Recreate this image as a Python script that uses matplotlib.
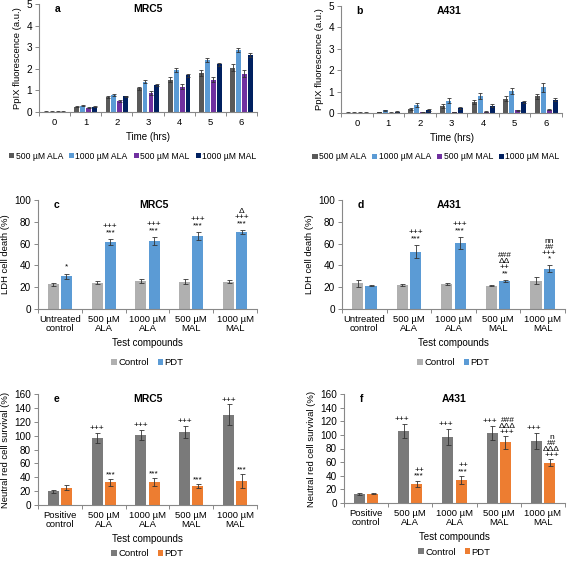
import numpy as np
import matplotlib.pyplot as plt

plt.rcParams['font.family'] = ['Liberation Sans', 'DejaVu Sans']

# panel a/b: PpIX fluorescence over time
hours = ['0', '1', '2', '3', '4', '5', '6']
ppix_series = ['500 µM ALA', '1000 µM ALA', '500 µM MAL', '1000 µM MAL']
ppix_colors = ['#595959', '#5b9bd5', '#7030a0', '#002060']

mrc5_ppix = [
    [0.02, 0.25, 0.68, 1.10, 1.50, 1.80, 2.05],
    [0.02, 0.30, 0.80, 1.40, 1.95, 2.40, 2.87],
    [0.02, 0.20, 0.50, 0.88, 1.18, 1.50, 1.78],
    [0.02, 0.25, 0.72, 1.25, 1.70, 2.20, 2.63],
]
mrc5_ppix_err = [
    [0.01, 0.03, 0.05, 0.08, 0.10, 0.15, 0.15],
    [0.01, 0.03, 0.04, 0.06, 0.08, 0.10, 0.10],
    [0.01, 0.03, 0.05, 0.08, 0.10, 0.12, 0.15],
    [0.01, 0.02, 0.03, 0.05, 0.06, 0.07, 0.10],
]
a431_ppix = [
    [0.02, 0.05, 0.20, 0.33, 0.52, 0.67, 0.78],
    [0.02, 0.13, 0.37, 0.58, 0.80, 1.03, 1.20],
    [0.02, 0.02, 0.04, 0.06, 0.07, 0.12, 0.15],
    [0.02, 0.06, 0.14, 0.25, 0.35, 0.50, 0.63],
]
a431_ppix_err = [
    [0.01, 0.02, 0.04, 0.08, 0.08, 0.12, 0.12],
    [0.01, 0.03, 0.08, 0.10, 0.15, 0.15, 0.20],
    [0.01, 0.01, 0.01, 0.01, 0.02, 0.02, 0.03],
    [0.01, 0.02, 0.03, 0.04, 0.05, 0.05, 0.06],
]

# panels c-f: test compounds
ldh_groups = ['Untreated\ncontrol', '500 µM\nALA', '1000 µM\nALA', '500 µM\nMAL', '1000 µM\nMAL']
nr_groups = ['Positive\ncontrol', '500 µM\nALA', '1000 µM\nALA', '500 µM\nMAL', '1000 µM\nMAL']

mrc5_ldh_ctrl = [22.5, 24.0, 25.5, 25.0, 25.0]
mrc5_ldh_ctrl_err = [1.5, 1.5, 1.8, 2.5, 1.5]
mrc5_ldh_pdt = [30.0, 61.5, 62.5, 67.0, 70.5]
mrc5_ldh_pdt_err = [2.5, 3.0, 3.5, 3.5, 2.0]
mrc5_ldh_ctrl_sig = ['', '', '', '', '']
mrc5_ldh_pdt_sig = ['*', '+++\n***', '+++\n***', '+++\n***', 'Δ\n+++\n***']

a431_ldh_ctrl = [23.5, 22.0, 23.0, 21.5, 26.0]
a431_ldh_ctrl_err = [3.0, 1.0, 1.0, 0.8, 3.5]
a431_ldh_pdt = [21.5, 52.5, 60.5, 25.5, 37.0]
a431_ldh_pdt_err = [0.6, 6.0, 5.5, 1.0, 3.0]
a431_ldh_ctrl_sig = ['', '', '', '', '']
a431_ldh_pdt_sig = ['', '+++\n***', '+++\n***', '###\nΔΔ\n++\n**', 'nn\n##\n+++\n*']

mrc5_nr_ctrl = [20.0, 97.0, 101.0, 105.0, 130.0]
mrc5_nr_ctrl_err = [2.0, 7.0, 7.0, 9.0, 15.0]
mrc5_nr_pdt = [25.0, 33.0, 33.0, 27.0, 35.0]
mrc5_nr_pdt_err = [4.0, 5.0, 6.0, 3.0, 10.0]
mrc5_nr_ctrl_sig = ['', '+++', '+++', '+++', '+++']
mrc5_nr_pdt_sig = ['', '***', '***', '***', '***']

a431_nr_ctrl = [13.0, 106.0, 97.0, 103.0, 91.0]
a431_nr_ctrl_err = [1.0, 10.0, 12.0, 10.0, 12.0]
a431_nr_pdt = [13.5, 28.0, 34.0, 89.0, 59.0]
a431_nr_pdt_err = [1.0, 5.0, 6.0, 9.0, 5.0]
a431_nr_ctrl_sig = ['', '+++', '+++', '+++', '+++']
a431_nr_pdt_sig = ['', '++\n***', '++\n***', '###\nΔΔΔ\n+++', 'n\n##\nΔΔΔ\n+++']


def style_axis(ax, n, labels, ymax, ystep, ylabel, xlabel):
    for s in ['top', 'right']:
        ax.spines[s].set_visible(False)
    for s in ['left', 'bottom']:
        ax.spines[s].set_color('#888888')
        ax.spines[s].set_linewidth(0.8)
    ax.set_xlim(-0.5, n - 0.5)
    ax.set_ylim(0, ymax)
    ax.set_yticks(np.arange(0, ymax + 0.001, ystep))
    ax.set_xticks(np.arange(-0.5, n, 1.0))
    ax.set_xticklabels([])
    ax.set_xticks(np.arange(n), minor=True)
    ax.set_xticklabels(labels, minor=True, fontsize=6.8, linespacing=1.0)
    ax.tick_params(axis='x', which='major', length=3, width=0.7, color='#888888')
    ax.tick_params(axis='x', which='minor', length=0, pad=4)
    ax.tick_params(axis='y', length=3, width=0.7, color='#888888', labelsize=7.2, pad=2)
    ax.set_ylabel(ylabel, fontsize=6.8, labelpad=3)
    ax.set_xlabel(xlabel, fontsize=7, labelpad=4)


def panel_titles(ax, letter, name, name_x):
    ax.text(0.07, 1.0, letter, transform=ax.transAxes, fontsize=7.5,
            fontweight='bold', va='top', ha='left')
    ax.text(name_x, 1.0, name, transform=ax.transAxes, fontsize=7.5,
            fontweight='bold', va='top', ha='center')


def ppix_panel(ax, values, errs, letter, name, name_x, legend_x):
    x = np.arange(len(hours))
    slot = 0.19
    for i, (v, e) in enumerate(zip(values, errs)):
        ax.bar(x + (i - 1.5) * slot, v, width=0.155, color=ppix_colors[i],
               yerr=e, ecolor='#333333', error_kw=dict(elinewidth=0.6, capsize=1.5, capthick=0.6),
               label=ppix_series[i])
    style_axis(ax, len(hours), hours, 5, 1, 'PpIX fluorescence (a.u.)', 'Time (hrs)')
    panel_titles(ax, letter, name, name_x)
    ax.legend(loc='center', bbox_to_anchor=(legend_x, -0.41), ncol=4, frameon=False,
              fontsize=6.2, handlelength=0.6, handleheight=0.6, handletextpad=0.15,
              columnspacing=0.7, borderaxespad=0)


def pair_panel(ax, groups, ctrl, ctrl_err, pdt, pdt_err, ctrl_sig, pdt_sig,
               colors, ymax, ylabel, letter, name, name_x, sig_off, leg_y, nudge=0):
    x = np.arange(len(groups))
    off = 0.15
    ax.bar(x - off, ctrl, width=0.25, color=colors[0], yerr=ctrl_err, ecolor='#333333',
           error_kw=dict(elinewidth=0.6, capsize=1.8, capthick=0.6), label='Control')
    ax.bar(x + off, pdt, width=0.25, color=colors[1], yerr=pdt_err, ecolor='#333333',
           error_kw=dict(elinewidth=0.6, capsize=1.8, capthick=0.6), label='PDT')
    for xi, v, e, s in zip(x - off, ctrl, ctrl_err, ctrl_sig):
        if s:
            ax.annotate(s, (xi, v + e), xytext=(-nudge, sig_off), textcoords='offset points',
                        ha='center', va='bottom', fontsize=6.0, linespacing=0.8)
    for xi, v, e, s in zip(x + off, pdt, pdt_err, pdt_sig):
        if s:
            ax.annotate(s, (xi, v + e), xytext=(nudge, sig_off), textcoords='offset points',
                        ha='center', va='bottom', fontsize=6.0, linespacing=0.8)
    style_axis(ax, len(groups), groups, ymax, 20, ylabel, 'Test compounds')
    panel_titles(ax, letter, name, name_x)
    ax.legend(loc='center', bbox_to_anchor=(0.5, leg_y), ncol=2, frameon=False,
              fontsize=6.8, handlelength=0.6, handleheight=0.6, handletextpad=0.15,
              columnspacing=0.9, borderaxespad=0)


fig = plt.figure(figsize=(5.67, 5.62), dpi=100)
W, H = 567.0, 562.0


def add_axes(left, right, top, bottom):
    return fig.add_axes([left / W, 1 - bottom / H, (right - left) / W, (bottom - top) / H])


ax_a = add_axes(39, 257, 4, 112)
ax_b = add_axes(341, 562, 6, 113)
ax_c = add_axes(38, 257, 200, 309)
ax_d = add_axes(342, 565, 200, 309)
ax_e = add_axes(38, 257, 394, 505)
ax_f = add_axes(344, 565, 394, 503)

ppix_panel(ax_a, mrc5_ppix, mrc5_ppix_err, 'a', 'MRC5', 0.5, 0.43)
ppix_panel(ax_b, a431_ppix, a431_ppix_err, 'b', 'A431', 0.49, 0.43)

ldh_colors = ['#b0b0b0', '#5b9bd5']
nr_colors = ['#7a7a7a', '#ed7d31']
pair_panel(ax_c, ldh_groups, mrc5_ldh_ctrl, mrc5_ldh_ctrl_err, mrc5_ldh_pdt, mrc5_ldh_pdt_err,
           mrc5_ldh_ctrl_sig, mrc5_ldh_pdt_sig, ldh_colors, 100, 'LDH cell death (%)',
           'c', 'MRC5', 0.53, 2, -0.49)
pair_panel(ax_d, ldh_groups, a431_ldh_ctrl, a431_ldh_ctrl_err, a431_ldh_pdt, a431_ldh_pdt_err,
           a431_ldh_ctrl_sig, a431_ldh_pdt_sig, ldh_colors, 100, 'LDH cell death (%)',
           'd', 'A431', 0.48, 2, -0.49)
pair_panel(ax_e, nr_groups, mrc5_nr_ctrl, mrc5_nr_ctrl_err, mrc5_nr_pdt, mrc5_nr_pdt_err,
           mrc5_nr_ctrl_sig, mrc5_nr_pdt_sig, nr_colors, 160, 'Neutral red cell survival (%)',
           'e', 'MRC5', 0.5, 0.5, -0.44)
pair_panel(ax_f, nr_groups, a431_nr_ctrl, a431_nr_ctrl_err, a431_nr_pdt, a431_nr_pdt_err,
           a431_nr_ctrl_sig, a431_nr_pdt_sig, nr_colors, 160, 'Neutral red cell survival (%)',
           'f', 'A431', 0.5, 0.5, -0.45, nudge=1.5)

fig.savefig('out.png', dpi=100)
